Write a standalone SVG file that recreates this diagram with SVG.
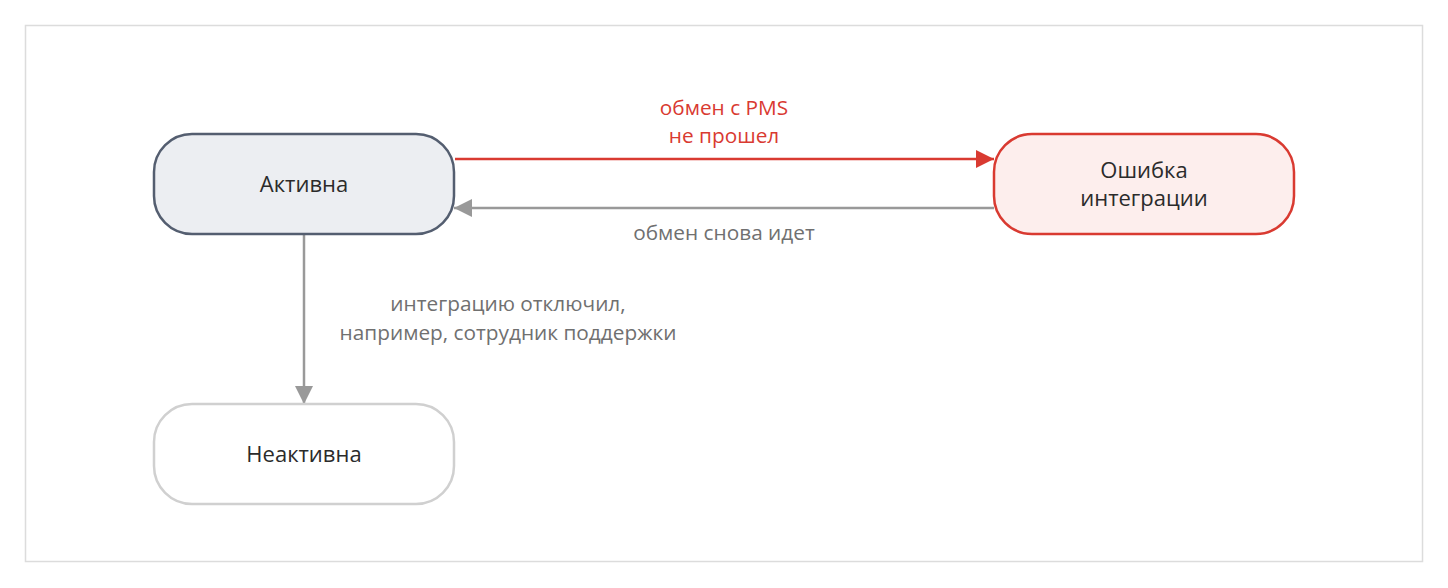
<svg xmlns="http://www.w3.org/2000/svg" width="1448" height="588" viewBox="0 0 1448 588">
<style>
.n{font-family:"Open Sans","Noto Sans",sans-serif;font-size:22px;fill:#2b2b2b;text-anchor:middle}
.l{font-family:"Open Sans","Noto Sans",sans-serif;font-size:20.8px;text-anchor:middle}
.g{fill:#707070}
.r{fill:#d93a31}
</style>
<defs>
<marker id="ar" markerWidth="18" markerHeight="18" refX="18" refY="9" orient="auto" markerUnits="userSpaceOnUse"><path d="M0,0 L18,9 L0,18 Z" fill="#d93a31"/></marker>
<marker id="ag" markerWidth="18" markerHeight="18" refX="18" refY="9" orient="auto" markerUnits="userSpaceOnUse"><path d="M0,0 L18,9 L0,18 Z" fill="#999"/></marker>
</defs>
<rect x="0" y="0" width="1448" height="588" fill="#fff"/>
<rect x="25.5" y="25.5" width="1397" height="536" fill="none" stroke="#dcdcdc" stroke-width="1.5"/>
<g id="connectors">
<line x1="455" y1="159" x2="994" y2="159" stroke="#d93a31" stroke-width="2.5" marker-end="url(#ar)"/>
<line x1="994" y1="208" x2="454" y2="208" stroke="#999" stroke-width="2.5" marker-end="url(#ag)"/>
<line x1="304" y1="235" x2="304" y2="404" stroke="#999" stroke-width="2.5" marker-end="url(#ag)"/>
<text class="l r" x="724" y="115">обмен с PMS</text>
<text class="l r" x="724" y="143">не прошел</text>
<text class="l g" x="724" y="240">обмен снова идет</text>
<text class="l g" x="508" y="311">интеграцию отключил,</text>
<text class="l g" x="508" y="340">например, сотрудник поддержки</text>
</g>
<g id="active">
<rect x="154" y="134" width="300" height="100" rx="38" fill="#eceef2" stroke="#545e70" stroke-width="2.5"/>
<text class="n" x="304" y="192">Активна</text>
</g>
<g id="error">
<rect x="994" y="134" width="300" height="100" rx="38" fill="#fdeeed" stroke="#d93a31" stroke-width="2.5"/>
<text class="n" x="1144" y="178">Ошибка</text>
<text class="n" x="1144" y="206">интеграции</text>
</g>
<g id="inactive">
<rect x="154" y="404" width="300" height="100" rx="38" fill="#fff" stroke="#d0d0d0" stroke-width="2.5"/>
<text class="n" x="304" y="462">Неактивна</text>
</g>
</svg>
